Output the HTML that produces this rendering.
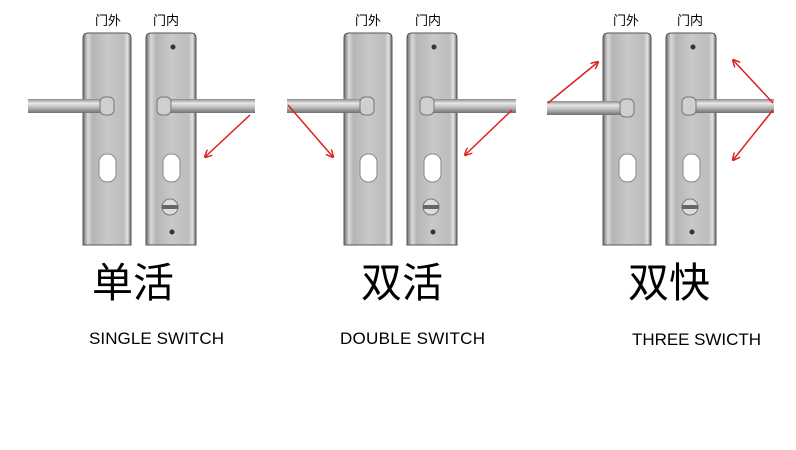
<!DOCTYPE html>
<html><head><meta charset="utf-8"><style>
body{margin:0;background:#fff;width:796px;height:450px;overflow:hidden}
svg{display:block}
</style></head><body>
<svg width="796" height="450" viewBox="0 0 796 450" xmlns="http://www.w3.org/2000/svg">
<defs>
<linearGradient id="pl" x1="0" x2="1" y1="0" y2="0">
<stop offset="0" stop-color="#6e6e6e"/><stop offset="0.1" stop-color="#d8d8d8"/><stop offset="0.2" stop-color="#b5b5b5"/><stop offset="0.5" stop-color="#c8c8c8"/><stop offset="0.85" stop-color="#bdbdbd"/><stop offset="0.93" stop-color="#e2e2e2"/><stop offset="1" stop-color="#6a6a6a"/>
</linearGradient>
<linearGradient id="bar" x1="0" x2="0" y1="0" y2="1">
<stop offset="0" stop-color="#8a8a8a"/><stop offset="0.3" stop-color="#e8e8e8"/><stop offset="0.6" stop-color="#bcbcbc"/><stop offset="1" stop-color="#707070"/>
</linearGradient>
<marker id="ah" markerWidth="8" markerHeight="8" refX="7" refY="4" orient="auto" markerUnits="userSpaceOnUse"><path d="M0,0 L8,4 L0,8" fill="none" stroke="#d22" stroke-width="1.5"/></marker>
<g id="L">
<path d="M83,245 V38 Q83,33 88,33 H126 Q131,33 131,38 V245 Z" fill="url(#pl)" stroke="#555" stroke-width="1"/>
<rect x="99" y="154" width="17" height="28" rx="8" fill="#fff" stroke="#888"/>
</g>
<g id="R">
<path d="M146,245 V38 Q146,33 151,33 H191 Q196,33 196,38 V245 Z" fill="url(#pl)" stroke="#555" stroke-width="1"/>
<circle cx="173" cy="47" r="2.5" fill="#333"/>
<rect x="163" y="154" width="17" height="28" rx="8" fill="#fff" stroke="#888"/>
<circle cx="170" cy="207" r="8" fill="#ddd" stroke="#777"/>
<rect x="162" y="205" width="16" height="4" fill="#666"/>
<circle cx="172" cy="232" r="2.5" fill="#333"/>
</g>
</defs>
<g font-family="Liberation Sans, Noto Sans CJK SC, sans-serif">
<!-- panel 1 -->
<use href="#L"/><use href="#R"/>
<rect x="28" y="99" width="80" height="14" fill="url(#bar)"/><rect x="100" y="97" width="14" height="18" rx="5" fill="#cfcfcf" stroke="#777"/>
<rect x="165" y="99" width="90" height="14" fill="url(#bar)"/><rect x="157" y="97" width="14" height="18" rx="5" fill="#cfcfcf" stroke="#777"/>
<line x1="250" y1="115" x2="205" y2="157" stroke="#d22" stroke-width="1.5" marker-end="url(#ah)"/>
<text x="95" y="25" font-size="13" font-family="Noto Sans CJK SC, sans-serif">门外</text>
<text x="153" y="25" font-size="13" font-family="Noto Sans CJK SC, sans-serif">门内</text>
<text x="92" y="297" font-size="41" font-family="Noto Sans CJK SC, sans-serif">单活</text>
<text x="89" y="344" font-size="17" textLength="135">SINGLE SWITCH</text>
<!-- panel 2 -->
<g transform="translate(261,0)"><use href="#L"/><use href="#R"/></g>
<rect x="287" y="99" width="80" height="14" fill="url(#bar)"/><rect x="360" y="97" width="14" height="18" rx="5" fill="#cfcfcf" stroke="#777"/>
<rect x="430" y="99" width="86" height="14" fill="url(#bar)"/><rect x="420" y="97" width="14" height="18" rx="5" fill="#cfcfcf" stroke="#777"/>
<line x1="288" y1="105" x2="333" y2="157" stroke="#d22" stroke-width="1.5" marker-end="url(#ah)"/>
<line x1="512" y1="110" x2="465" y2="155" stroke="#d22" stroke-width="1.5" marker-end="url(#ah)"/>
<text x="355" y="25" font-size="13" font-family="Noto Sans CJK SC, sans-serif">门外</text>
<text x="415" y="25" font-size="13" font-family="Noto Sans CJK SC, sans-serif">门内</text>
<text x="361" y="297" font-size="41" font-family="Noto Sans CJK SC, sans-serif">双活</text>
<text x="340" y="344" font-size="17" textLength="145">DOUBLE SWITCH</text>
<!-- panel 3 -->
<g transform="translate(520,0)"><use href="#L"/><use href="#R"/></g>
<rect x="547" y="101" width="82" height="14" fill="url(#bar)"/><rect x="620" y="99" width="14" height="18" rx="5" fill="#cfcfcf" stroke="#777"/>
<rect x="690" y="99" width="84" height="14" fill="url(#bar)"/><rect x="682" y="97" width="14" height="18" rx="5" fill="#cfcfcf" stroke="#777"/>
<line x1="548" y1="103" x2="598" y2="62" stroke="#d22" stroke-width="1.5" marker-end="url(#ah)"/>
<line x1="773" y1="103" x2="733" y2="60" stroke="#d22" stroke-width="1.5" marker-end="url(#ah)"/>
<line x1="773" y1="110" x2="733" y2="160" stroke="#d22" stroke-width="1.5" marker-end="url(#ah)"/>
<text x="613" y="25" font-size="13" font-family="Noto Sans CJK SC, sans-serif">门外</text>
<text x="677" y="25" font-size="13" font-family="Noto Sans CJK SC, sans-serif">门内</text>
<text x="628" y="297" font-size="41" font-family="Noto Sans CJK SC, sans-serif">双快</text>
<text x="632" y="345" font-size="17" textLength="129">THREE SWICTH</text>
</g>
</svg>
</body></html>
